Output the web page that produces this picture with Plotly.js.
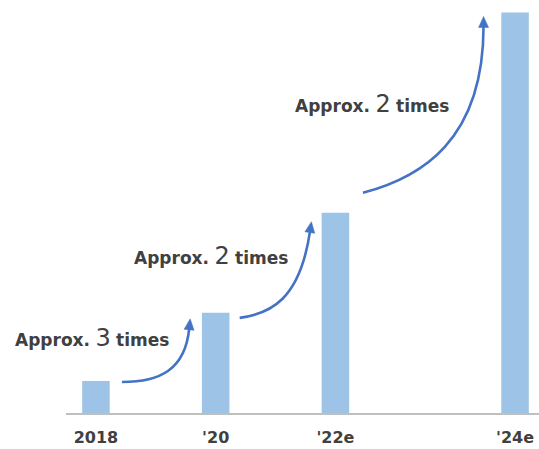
<!DOCTYPE html>
<html>
<head>
<meta charset="utf-8">
<script src="https://cdn.plot.ly/plotly-3.0.1.min.js"></script>
<style>html,body{margin:0;padding:0;background:#fff;}#chart{width:539px;height:449px;}</style>
</head>
<body>
<div id="chart"></div>
<script>
// ---- data ----
const categories = ["2018", "'20", "'22e", "'24e"];
const values = [8, 25, 50, 100];          // relative market size (index)
const growthLabels = ["3", "2", "2"];     // "Approx. N times" between bars

// ---- layout geometry ----
const slots = [0, 1, 2, 3.5];             // horizontal slot of each category
const W = 539, H = 449;
const M = {l: 66, r: 0, t: 0, b: 36};
const xRange = [-0.25, 3.7];
const yRange = [0, 103.1];
const plotL = M.l, plotR = W - M.r, plotT = M.t, plotB = H - M.b;

const x2px = v => plotL + (v - xRange[0]) / (xRange[1] - xRange[0]) * (plotR - plotL);
const y2px = v => plotB - (v - yRange[0]) / (yRange[1] - yRange[0]) * (plotB - plotT);
const px2x = p => xRange[0] + (p - plotL) / (plotR - plotL) * (xRange[1] - xRange[0]);
const py2y = p => yRange[0] + (plotB - p) / (plotB - plotT) * (yRange[1] - yRange[0]);

const barColor = '#9DC3E6';
const arrowColor = '#4472C4';
const textColor = '#404040';

// arrow geometry relative to bar tops (pixel offsets)
const arrowDefs = [
  {from: 0, to: 1, s: [26, 1],   e: [-25.5, 6], c1: [38, 0],  c2: [-4, 40]},
  {from: 1, to: 2, s: [24, 5],   e: [-24, 9],   c1: [30, -4], c2: [-10, 68]},
  {from: 2, to: 3, s: [27.5, -20], e: [-31.5, 4], c1: [57, -15], c2: [0, 114]}
];
// label centres (pixels)
const labelPos = [[92, 338], [211, 256], [372, 104]];

const shapes = [];
arrowDefs.forEach(a => {
  const sx = x2px(slots[a.from]) + a.s[0], sy = y2px(values[a.from]) + a.s[1];
  const tx = x2px(slots[a.to]) + a.e[0], ty = y2px(values[a.to]) + a.e[1];
  const p1 = [sx + a.c1[0], sy + a.c1[1]];
  const p2 = [tx + a.c2[0], ty + a.c2[1]];
  let dx = tx - p2[0], dy = ty - p2[1];
  const len = Math.hypot(dx, dy); dx /= len; dy /= len;
  const headL = 11, headW = 5;
  const bx = tx - headL * dx, by = ty - headL * dy;
  const px = -dy, py = dx;
  const P = (x, y) => px2x(x) + ',' + py2y(y);
  shapes.push({
    type: 'path', xref: 'x', yref: 'y',
    path: 'M' + P(sx, sy) + ' C' + P(p1[0], p1[1]) + ' ' + P(p2[0] - (tx - bx), p2[1] - (ty - by)) + ' ' + P(bx + 1.5 * dx, by + 1.5 * dy),
    line: {color: arrowColor, width: 2.6}
  });
  shapes.push({
    type: 'path', xref: 'x', yref: 'y',
    path: 'M' + P(tx, ty) + ' L' + P(bx + headW * px, by + headW * py) + ' L' + P(bx - headW * px, by - headW * py) + ' Z',
    fillcolor: arrowColor, line: {color: arrowColor, width: 0.5}
  });
});

const annotations = growthLabels.map((g, i) => ({
  xref: 'x', yref: 'y',
  x: px2x(labelPos[i][0]), y: py2y(labelPos[i][1]),
  xanchor: 'center', yanchor: 'middle',
  showarrow: false,
  text: '<b>Approx.</b> <span style="font-size:24px">' + g + '</span> <b>times</b>',
  font: {family: 'DejaVu Sans, Verdana, sans-serif', size: 17, color: textColor}
}));

const trace = {
  type: 'bar',
  x: categories.map((c, i) => slots[i]),
  y: values,
  width: 0.23,
  marker: {color: barColor, line: {width: 0}},
  hoverinfo: 'skip'
};

const layout = {
  width: W, height: H,
  margin: M,
  paper_bgcolor: '#ffffff', plot_bgcolor: '#ffffff',
  showlegend: false,
  xaxis: {
    range: xRange, fixedrange: true,
    tickmode: 'array', tickvals: slots, ticktext: categories.map(c => '<b>' + c + '</b>'),
    tickfont: {family: 'DejaVu Sans, Verdana, sans-serif', size: 16, color: textColor},
    showgrid: false, zeroline: false,
    showline: true, linecolor: '#BFBFBF', linewidth: 2,
    ticks: '', ticklabelstandoff: 9
  },
  yaxis: {
    range: yRange, fixedrange: true,
    showgrid: false, zeroline: false, showline: false, showticklabels: false, ticks: ''
  },
  shapes: shapes,
  annotations: annotations
};

Plotly.newPlot('chart', [trace], layout, {displayModeBar: false, staticPlot: true});
</script>
</body>
</html>
